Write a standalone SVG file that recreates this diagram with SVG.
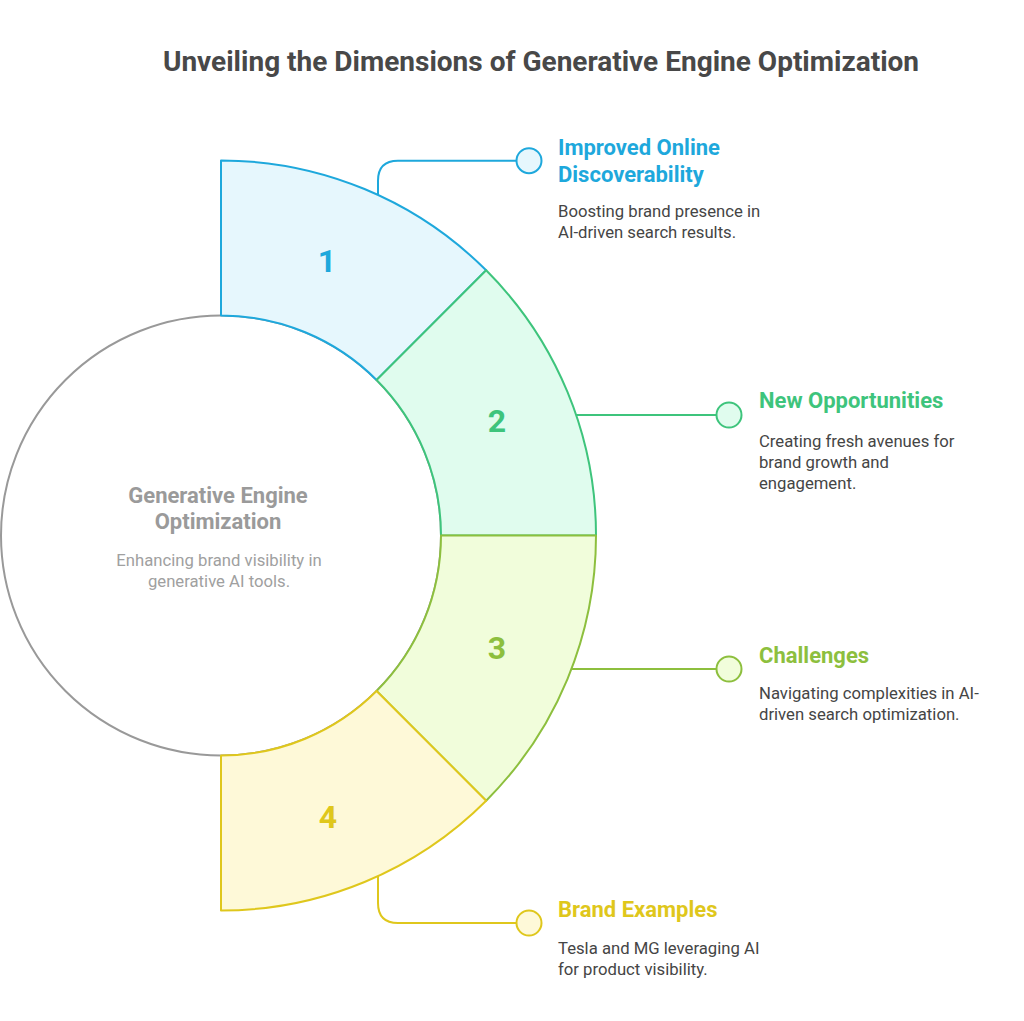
<svg xmlns="http://www.w3.org/2000/svg" width="1024" height="1021" viewBox="0 0 1024 1021">
<style>
text{font-family:Roboto,"Liberation Sans",sans-serif}
.title{font-size:28px;font-weight:700;fill:#484848}
.h{font-size:22px;font-weight:700}
.d{font-size:16.7px;fill:#454545}
.num{font-size:32px;font-weight:700;text-anchor:middle}
.seg{stroke-width:2;stroke-linejoin:round}
.con{fill:none;stroke-width:2}
.blue{stroke:#1ea8dc}
.green{stroke:#3ec47c}
.lime{stroke:#8dbf3e}
.yellow{stroke:#dfc71c}
</style>
<rect width="1024" height="1021" fill="#fff"/>
<text class="title" x="541" y="71" text-anchor="middle">Unveiling the Dimensions of Generative Engine Optimization</text>

<g id="center">
<circle cx="221" cy="535.5" r="220" fill="#fff" stroke="#999" stroke-width="2"/>
<text class="h" x="218" y="503" text-anchor="middle" fill="#9a9a9a">Generative Engine</text>
<text class="h" x="218" y="529" text-anchor="middle" fill="#9a9a9a">Optimization</text>
<text class="d" x="219" y="566" text-anchor="middle" style="fill:#a0a0a0">Enhancing brand visibility in</text>
<text class="d" x="219" y="587" text-anchor="middle" style="fill:#a0a0a0">generative AI tools.</text>
</g>

<g id="seg1">
<path class="seg blue" fill="#e6f7fd" d="M221,160.5 A375,375 0 0 1 486.17,270.33 L376.56,379.94 A220,220 0 0 0 221,315.5 Z"/>
<text class="num" x="327" y="272" fill="#1ea8dc">1</text>
</g>
<g id="seg2">
<path class="seg green" fill="#e0fcee" d="M486.17,270.33 A375,375 0 0 1 596,535.5 L441,535.5 A220,220 0 0 0 376.56,379.94 Z"/>
<text class="num" x="497" y="432" fill="#3ec47c">2</text>
</g>
<g id="seg3">
<path class="seg lime" fill="#f1fddb" d="M596,535.5 A375,375 0 0 1 486.17,800.67 L376.56,691.06 A220,220 0 0 0 441,535.5 Z"/>
<text class="num" x="497" y="659" fill="#8dbf3e">3</text>
</g>
<g id="seg4">
<path class="seg yellow" fill="#fef9d8" d="M486.17,800.67 A375,375 0 0 1 221,910.5 L221,755.5 A220,220 0 0 0 376.56,691.06 Z"/>
<text class="num" x="328" y="828" fill="#dfc71c">4</text>
</g>

<g id="connectors">
<path class="con blue" d="M378,195 L378,180.7 Q378,160.7 398,160.7 L516.5,160.7"/>
<path class="con green" d="M576.1,415 L716.5,415"/>
<path class="con lime" d="M571.4,669 L716.5,669"/>
<path class="con yellow" d="M378,876 L378,903 Q378,923 398,923 L516.5,923"/>
</g>

<g id="item1">
<circle cx="529" cy="160.7" r="12.5" fill="#e6f7fd" stroke="#1ea8dc" stroke-width="2"/>
<text class="h" x="558" y="155" fill="#1ea8dc">Improved Online</text>
<text class="h" x="558" y="182" fill="#1ea8dc">Discoverability</text>
<text class="d" x="558" y="217">Boosting brand presence in</text>
<text class="d" x="558" y="238">AI-driven search results.</text>
</g>
<g id="item2">
<circle cx="729" cy="415" r="12.5" fill="#e0fcee" stroke="#3ec47c" stroke-width="2"/>
<text class="h" x="759" y="408" fill="#3ec47c">New Opportunities</text>
<text class="d" x="759" y="447">Creating fresh avenues for</text>
<text class="d" x="759" y="468">brand growth and</text>
<text class="d" x="759" y="489">engagement.</text>
</g>
<g id="item3">
<circle cx="729" cy="669" r="12.5" fill="#f1fddb" stroke="#8dbf3e" stroke-width="2"/>
<text class="h" x="759" y="663" fill="#8dbf3e">Challenges</text>
<text class="d" x="759" y="699">Navigating complexities in AI-</text>
<text class="d" x="759" y="720">driven search optimization.</text>
</g>
<g id="item4">
<circle cx="529" cy="923" r="12.5" fill="#fef9d8" stroke="#dfc71c" stroke-width="2"/>
<text class="h" x="558" y="917" fill="#dfc71c">Brand Examples</text>
<text class="d" x="558" y="954">Tesla and MG leveraging AI</text>
<text class="d" x="558" y="975">for product visibility.</text>
</g>
</svg>
